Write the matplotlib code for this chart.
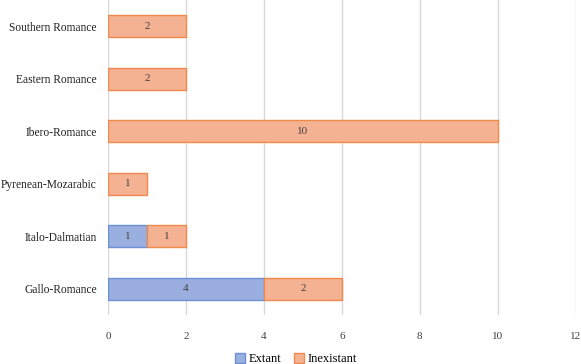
import numpy as np
import matplotlib.pyplot as plt

# data (bottom to top as drawn)
groups = ['Gallo-Romance', 'Italo-Dalmatian', 'Pyrenean-Mozarabic',
          'Ibero-Romance', 'Eastern Romance', 'Southern Romance']
extant = [4, 1, 0, 0, 0, 0]
inexistant = [2, 1, 1, 10, 2, 2]

plt.rcParams['font.family'] = ['Liberation Serif', 'DejaVu Serif']

fig = plt.figure(figsize=(5.81, 3.64), dpi=100)
ax = fig.add_axes([0.186, 0.135, 0.805, 0.865])

y = np.arange(len(groups))
h = 0.42
ax.barh(y, extant, height=h, color='#9aafdf', edgecolor='#6d8fd3', linewidth=1.0,
        label='Extant', zorder=3)
ax.barh(y, inexistant, height=h, left=extant, color='#f5b292', edgecolor='#ef8a4c',
        linewidth=1.0, label='Inexistant', zorder=3)

for i in range(len(groups)):
    if extant[i] > 0:
        ax.text(extant[i] / 2, y[i], str(extant[i]), ha='center', va='center',
                fontsize=8, color='#404040', zorder=4)
    if inexistant[i] > 0:
        ax.text(extant[i] + inexistant[i] / 2, y[i], str(inexistant[i]), ha='center',
                va='center', fontsize=8, color='#404040', zorder=4)

ax.set_xlim(0, 12)
ax.set_ylim(-0.5, len(groups) - 0.5)
ax.set_xticks(range(0, 13, 2))
ax.set_yticks(y)
ax.set_yticklabels(groups, fontsize=8.3, color='#222222')
ax.tick_params(axis='x', labelsize=8, colors='#404040', length=0, pad=12)
ax.tick_params(axis='y', length=0, pad=8)
ax.grid(axis='x', color='#d9d9d9', linewidth=1.0, zorder=0)
for s in ax.spines.values():
    s.set_visible(False)

fig.legend(loc='lower center', bbox_to_anchor=(0.51, -0.035), ncol=2, frameon=False,
           fontsize=9, handlelength=0.8, handleheight=0.8, handletextpad=0.3,
           columnspacing=1.0)

fig.savefig('out.png', dpi=100)
